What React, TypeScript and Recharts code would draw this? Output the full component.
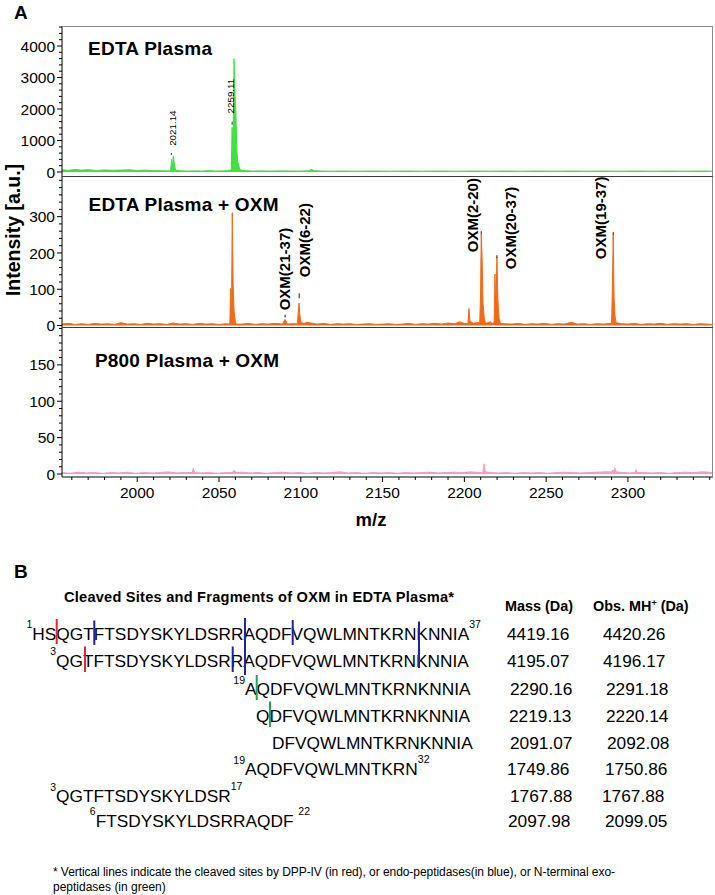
import { Area, ComposedChart, ReferenceDot, ReferenceLine, XAxis, YAxis } from 'recharts';

const FONT = '"Liberation Sans", Arial, Helvetica, sans-serif';

// shared m/z axis
const mzDomain = [1954, 2352];
const mzMajor = [2000, 2050, 2100, 2150, 2200, 2250, 2300];
const mzMinorStep = 10;

// y axis tick labels per panel
const edtaTicks = [0, 1000, 2000, 3000, 4000];
const oxmTicks = [0, 100, 200, 300];
const p800Ticks = [0, 50, 100, 150];

// EDTA plasma spectrum: [m/z, intensity]
const edtaPeaks = [
  [2020.4, 40], [2021.0, 400], [2021.5, 150], [2022.1, 510], [2022.7, 250], [2023.4, 60],
  [2057.5, 60], [2058.0, 1420], [2058.5, 700], [2059.2, 3600], [2059.7, 2500], [2060.3, 1880],
  [2060.9, 700], [2061.5, 320], [2062.3, 150], [2063.2, 60],
  [2105.2, 40], [2106.2, 85], [2107.0, 75], [2108.0, 40],
];
const edtaNoise = [
  [1954, 70], [1958, 55], [1962, 80], [1966, 60], [1970, 75], [1975, 50], [1980, 65], [1985, 55],
  [1990, 60], [1995, 70], [2000, 50], [2005, 60], [2010, 45], [2015, 40], [2018, 35], [2026, 40],
  [2030, 30], [2035, 35], [2040, 30], [2044, 45], [2048, 30], [2052, 35], [2055, 40], [2066, 45],
  [2070, 30], [2076, 35], [2082, 30], [2088, 35], [2094, 30], [2100, 30], [2112, 30], [2118, 25],
  [2125, 30], [2135, 25], [2145, 30], [2155, 25], [2165, 30], [2175, 25], [2185, 30], [2195, 25],
  [2205, 30], [2215, 25], [2225, 30], [2235, 25], [2245, 30], [2255, 25], [2265, 30], [2275, 25],
  [2285, 30], [2295, 25], [2305, 30], [2315, 25], [2325, 30], [2335, 25], [2345, 30], [2352, 25],
];

// EDTA plasma + OXM spectrum
const oxmPeaks = [
  [2056.6, 4], [2057.1, 102], [2057.6, 20], [2058.1, 311], [2058.6, 118], [2059.2, 40], [2059.9, 12], [2060.6, 4],
  [2088.8, 4], [2089.6, 12], [2090.3, 17], [2091.0, 12], [2091.8, 4],
  [2097.9, 5], [2098.5, 40], [2098.9, 62], [2099.4, 30], [2100.1, 8],
  [2102, 6], [2104, 9], [2106, 7],
  [2202.2, 5], [2202.8, 47], [2203.4, 12], [2205.5, 6], [2207, 8],
  [2209.4, 8], [2209.9, 90], [2210.3, 252], [2210.8, 190], [2211.4, 60], [2212.2, 18], [2213, 6],
  [2216.0, 10], [2217, 6],
  [2218.2, 8], [2218.7, 142], [2219.2, 40], [2219.9, 188], [2220.5, 70], [2221.2, 20], [2222, 6],
  [2290.0, 6], [2290.5, 107], [2291.0, 252], [2291.5, 80], [2292.0, 30], [2292.7, 8],
];
const oxmNoise = [
  [1954, 4], [1958, 6], [1962, 3], [1966, 5], [1970, 3], [1974, 6], [1978, 4], [1982, 5], [1986, 3],
  [1990, 8], [1994, 4], [1998, 5], [2002, 3], [2006, 6], [2010, 4], [2014, 5], [2018, 3], [2022, 7],
  [2026, 4], [2030, 5], [2034, 3], [2038, 6], [2042, 4], [2046, 5], [2050, 3], [2054, 5], [2064, 4],
  [2068, 6], [2072, 3], [2076, 5], [2080, 4], [2084, 6], [2094, 5], [2110, 4], [2114, 6], [2118, 3],
  [2122, 5], [2126, 4], [2130, 5], [2134, 3], [2138, 4], [2142, 5], [2146, 3], [2150, 4], [2154, 5],
  [2158, 3], [2162, 4], [2166, 6], [2170, 3], [2174, 5], [2178, 4], [2182, 6], [2186, 4], [2190, 7],
  [2194, 5], [2197, 10], [2200, 6], [2225, 5], [2229, 4], [2233, 6], [2237, 3], [2241, 5], [2245, 4],
  [2249, 6], [2253, 3], [2257, 5], [2261, 4], [2265.5, 9], [2269, 4], [2273, 5], [2277, 3], [2281, 5],
  [2285, 4], [2296, 5], [2300, 4], [2304, 6], [2308, 3], [2312, 5], [2316, 4], [2320, 6], [2324, 3],
  [2328, 5], [2332, 4], [2336, 5], [2340, 3], [2344, 5], [2348, 4], [2352, 3],
];

// P800 plasma + OXM spectrum
const p800Peaks = [
  [2033.6, 2], [2034.3, 8], [2035, 2],
  [2058.4, 2], [2059, 5], [2059.8, 4], [2060.6, 2],
  [2211.3, 2], [2212, 14], [2212.7, 3],
  [2289.8, 3], [2290.5, 5], [2291.3, 4], [2292, 8], [2292.8, 3],
  [2304.3, 2], [2305, 6], [2305.7, 2],
];
const p800Noise = [
  [1954, 2], [1959, 1], [1964, 2.5], [1969, 1.5], [1974, 2], [1979, 1], [1984, 2], [1989, 1.5],
  [1994, 2.5], [1999, 1], [2004, 2], [2009, 1.5], [2014, 2], [2019, 3], [2024, 1.5], [2029, 2],
  [2039, 1.5], [2044, 2], [2049, 1], [2054, 2], [2064, 2.5], [2069, 1.5], [2074, 2], [2079, 1],
  [2084, 2], [2089, 2.5], [2094, 1.5], [2099, 2], [2104, 1], [2109, 2], [2114, 1.5], [2119, 2],
  [2124, 3], [2129, 1.5], [2134, 2], [2139, 1], [2144, 2], [2149, 1.5], [2154, 2], [2159, 1],
  [2164, 2], [2169, 1.5], [2174, 2], [2179, 2.5], [2184, 1.5], [2189, 2], [2194, 2.5], [2199, 2],
  [2204, 3], [2209, 2], [2216, 2], [2221, 1.5], [2226, 2], [2231, 1], [2236, 2], [2241, 1.5],
  [2246, 2], [2251, 1], [2256, 2], [2261, 2.5], [2266, 2], [2271, 1.5], [2276, 2], [2281, 2.5],
  [2286, 3], [2297, 2], [2301, 1.5], [2310, 2], [2315, 1.5], [2320, 2], [2325, 1], [2330, 2],
  [2335, 2.5], [2340, 2], [2345, 3], [2350, 2.5], [2352, 2],
];

// peak annotations (m/z, intensity where the label starts, text)
const edtaLabels = [
  { mz: 2021.5, at: 830, text: '2021.14' },
  { mz: 2057.1, at: 1860, text: '2259.11' },
];
const oxmLabels = [
  { mz: 2090.3, at: 42, text: 'OXM(21-37)' },
  { mz: 2102.5, at: 133, text: 'OXM(6-22)' },
  { mz: 2205.2, at: 202, text: 'OXM(2-20)' },
  { mz: 2228.4, at: 155, text: 'OXM(20-37)' },
  { mz: 2283.5, at: 183, text: 'OXM(19-37)' },
];
const edtaMarks = [
  { mz: 2020.9, from: 540, to: 600 },
  { mz: 2058.0, from: 1500, to: 1600 },
];
const oxmMarks = [
  { mz: 2090.4, from: 22, to: 30 },
  { mz: 2099.0, from: 75, to: 89 },
  { mz: 2210.3, from: 252, to: 260 },
  { mz: 2219.9, from: 186, to: 194 },
  { mz: 2291.0, from: 250, to: 258 },
];

// fragment table
const fragSeq = [
  'HSQGTFTSDYSKYLDSRRAQDFVQWLMNTKRNKNNIA',
  'QGTFTSDYSKYLDSRRAQDFVQWLMNTKRNKNNIA',
  'AQDFVQWLMNTKRNKNNIA',
  'QDFVQWLMNTKRNKNNIA',
  'DFVQWLMNTKRNKNNIA',
  'AQDFVQWLMNTKRN',
  'QGTFTSDYSKYLDSR',
  'FTSDYSKYLDSRRAQDF ',
];
const fragStart = ['1', '3', '19', '', '', '19', '3', '6'];
const fragEnd = ['37', '', '', '', '', '32', '17', '22'];
const fragMass = ['4419.16', '4195.07', '2290.16', '2219.13', '2091.07', '1749.86', '1767.88', '2097.98'];
const fragObs = ['4420.26', '4196.17', '2291.18', '2220.14', '2092.08', '1750.86', '1767.88', '2099.05'];

// layout of the table
const rowBase = [639.5, 666.5, 695, 721.5, 748.5, 775, 802, 826.5];
const seqX = [32.3, 56, 245, 256, 272, 245, 56, 95.7];
const massX = [507, 507, 510, 509, 510, 507, 510, 508];
const obsX = [603, 603, 606, 606, 607, 605, 602, 605];
const cuts = [
  { x: 56.7, y1: 619, y2: 644, c: '#e3262c' },
  { x: 94.3, y1: 620.5, y2: 645, c: '#23239a' },
  { x: 245, y1: 618, y2: 675, c: '#23239a' },
  { x: 292.7, y1: 620, y2: 645, c: '#23239a' },
  { x: 419, y1: 621.5, y2: 668, c: '#23239a' },
  { x: 85, y1: 646.5, y2: 672, c: '#e3262c' },
  { x: 232.7, y1: 646.5, y2: 672, c: '#23239a' },
  { x: 256.7, y1: 675, y2: 700, c: '#1fa35e' },
  { x: 270, y1: 701.5, y2: 727, c: '#1fa35e' },
];

const range = (a: number, b: number, s: number) => {
  const out: number[] = [];
  for (let v = a; v <= b + 1e-9; v += s) out.push(Math.round(v * 100) / 100);
  return out;
};

const toRows = (peaks: number[][], noise: number[][]) =>
  [...noise.filter(([m]) => !peaks.some(([p]) => Math.abs(p - m) < 1.5)), ...peaks]
    .sort((a, b) => a[0] - b[0])
    .map(([mz, v]) => ({ mz, v }));

const YTick = ({ x, y, payload, majors }: any) => {
  const major = majors.includes(payload.value);
  return (
    <g>
      <line x1={x - (major ? 5 : 3)} x2={x} y1={y} y2={y} stroke="#000" />
      {major && (
        <text x={x - 7} y={y} dy="0.36em" textAnchor="end" fontSize={15.5} fontFamily={FONT} fill="#000">
          {payload.value}
        </text>
      )}
    </g>
  );
};

const XTick = ({ x, y, payload }: any) => {
  const major = mzMajor.includes(payload.value);
  return (
    <g>
      <line x1={x} x2={x} y1={y} y2={y + (major ? 5 : 3)} stroke="#000" />
      {major && (
        <text x={x} y={y + 21} textAnchor="middle" fontSize={15.5} fontFamily={FONT} fill="#000">
          {payload.value}
        </text>
      )}
    </g>
  );
};

const rotated = (text: string, size: number, weight: number) => (p: any) => (
  <text
    x={p.cx}
    y={p.cy}
    dy="0.36em"
    transform={`rotate(-90 ${p.cx} ${p.cy})`}
    fontSize={size}
    fontWeight={weight}
    fontFamily={FONT}
    fill="#000"
  >
    {text}
  </text>
);

type PanelProps = {
  data: { mz: number; v: number }[];
  color: string;
  domain: number[];
  majors: number[];
  minorStep: number;
  top: number;
  height: number;
  showX?: boolean;
  children?: any;
};

const Panel = ({ data, color, domain, majors, minorStep, top, height, showX, children }: PanelProps) => {
  // hidden-axis panels get a little spare room below so the "0" tick label is not clipped
  const extra = showX ? 40 : 10;
  const h = height + extra;
  return (
    <div style={{ position: 'absolute', left: 0, top, width: 715, height: h }}>
      <ComposedChart
        width={715}
        height={h}
        data={data}
        margin={{ top: 0, right: 2, bottom: showX ? 0 : extra, left: 0 }}
      >
        <XAxis
          dataKey="mz"
          type="number"
          domain={mzDomain}
          allowDataOverflow
          hide={!showX}
          height={40}
          ticks={range(1960, 2350, mzMinorStep)}
          interval={0}
          tickSize={0}
          tickMargin={0}
          tickLine={false}
          tick={(p: any) => <XTick {...p} />}
          axisLine={{ stroke: '#000' }}
        />
        <YAxis
          type="number"
          domain={domain}
          allowDataOverflow
          width={62}
          ticks={range(0, Math.floor(domain[1] / minorStep) * minorStep, minorStep)}
          interval={0}
          tickSize={0}
          tickMargin={0}
          tickLine={false}
          tick={(p: any) => <YTick {...p} majors={majors} />}
          axisLine={{ stroke: '#000' }}
        />
        <Area
          type="linear"
          dataKey="v"
          stroke={color}
          strokeWidth={1}
          fill={color}
          fillOpacity={1}
          dot={false}
          activeDot={false}
          isAnimationActive={false}
        />
        {children}
      </ComposedChart>
    </div>
  );
};

export default function App() {
  const edta = toRows(edtaPeaks, edtaNoise);
  const oxm = toRows(oxmPeaks, oxmNoise);
  const p800 = toRows(p800Peaks, p800Noise);

  return (
    <div style={{ position: 'absolute', left: 0, top: 0, width: 715, height: 895, background: '#fff', fontFamily: FONT }}>
      <Panel data={edta} color="#3fe23f" domain={[-127, 4635]} majors={edtaTicks} minorStep={200} top={26} height={150}>
        {edtaMarks.map((m) => (
          <ReferenceLine key={m.mz} segment={[{ x: m.mz, y: m.from }, { x: m.mz, y: m.to }]} stroke="#333" />
        ))}
        {edtaLabels.map((l) => (
          <ReferenceDot key={l.text} x={l.mz} y={l.at} r={0} shape={rotated(l.text, 9.8, 400)} />
        ))}
      </Panel>
      <Panel data={oxm} color="#f26a16" domain={[-4, 412]} majors={oxmTicks} minorStep={20} top={176} height={151}>
        {oxmMarks.map((m) => (
          <ReferenceLine key={m.mz} segment={[{ x: m.mz, y: m.from }, { x: m.mz, y: m.to }]} stroke="#222" />
        ))}
        {oxmLabels.map((l) => (
          <ReferenceDot key={l.text} x={l.mz} y={l.at} r={0} shape={rotated(l.text, 15, 700)} />
        ))}
      </Panel>
      <Panel data={p800} color="#f39ac6" domain={[-4.1, 202]} majors={p800Ticks} minorStep={10} top={327} height={150} showX />

      {/* frame */}
      <div
        style={{
          position: 'absolute',
          left: 62,
          top: 26,
          width: 651,
          height: 451,
          boxSizing: 'border-box',
          borderTop: '1px solid #8a8a8a',
          borderRight: '1px solid #8a8a8a',
          pointerEvents: 'none',
        }}
      />
      <div style={{ position: 'absolute', left: 62, top: 175.5, width: 651, height: 1.3, background: '#3a3a3a' }} />
      <div style={{ position: 'absolute', left: 62, top: 326.5, width: 651, height: 1.3, background: '#3a3a3a' }} />

      <svg width={715} height={895} style={{ position: 'absolute', left: 0, top: 0, pointerEvents: 'none' }}>
        <g fontFamily={FONT} fill="#000">
          <text x={14} y={18.5} fontSize={19} fontWeight={700}>A</text>
          <text x={14} y={578} fontSize={19} fontWeight={700}>B</text>

          <text x={88} y={55} fontSize={19} fontWeight={700} textLength={124}>EDTA Plasma</text>
          <text x={88.5} y={210.5} fontSize={19} fontWeight={700} textLength={190}>EDTA Plasma + OXM</text>
          <text x={95} y={366.5} fontSize={19} fontWeight={700} textLength={184}>P800 Plasma + OXM</text>

          <text x={20} y={230} fontSize={19.5} fontWeight={700} textAnchor="middle" transform="rotate(-90 20 230)">
            Intensity [a.u.]
          </text>
          <text x={371} y={526} fontSize={18.5} fontWeight={700} textAnchor="middle">m/z</text>

          <text x={64} y={602} fontSize={14.6} fontWeight={700} textLength={390}>
            Cleaved Sites and Fragments of OXM in EDTA Plasma*
          </text>
          <text x={505} y={611} fontSize={14.4} fontWeight={700}>Mass (Da)</text>
          <text x={593} y={611} fontSize={14.4} fontWeight={700}>
            Obs. MH<tspan fontSize={9} dy={-5}>+</tspan>
            <tspan dy={5}> (Da)</tspan>
          </text>

          {fragSeq.map((seq, i) => (
            <g key={i}>
              {fragStart[i] && (
                <text x={seqX[i]} y={rowBase[i] - 11.5} fontSize={10.5} textAnchor="end">{fragStart[i]}</text>
              )}
              <text x={seqX[i]} y={rowBase[i]} fontSize={17.3}>
                {seq}
                {fragEnd[i] && (
                  <tspan fontSize={10.5} dy={-12}>{fragEnd[i]}</tspan>
                )}
              </text>
              <text x={massX[i]} y={rowBase[i]} fontSize={17.3}>{fragMass[i]}</text>
              <text x={obsX[i]} y={rowBase[i]} fontSize={17.3}>{fragObs[i]}</text>
            </g>
          ))}

          {cuts.map((c, i) => (
            <line key={i} x1={c.x} x2={c.x} y1={c.y1} y2={c.y2} stroke={c.c} strokeWidth={2} />
          ))}

          <text x={53} y={876} fontSize={12} textLength={562}>
            * Vertical lines indicate the cleaved sites by DPP-IV (in red), or endo-peptidases(in blue), or N-terminal exo-
          </text>
          <text x={53} y={891} fontSize={12}>peptidases (in green)</text>
        </g>
      </svg>
    </div>
  );
}
